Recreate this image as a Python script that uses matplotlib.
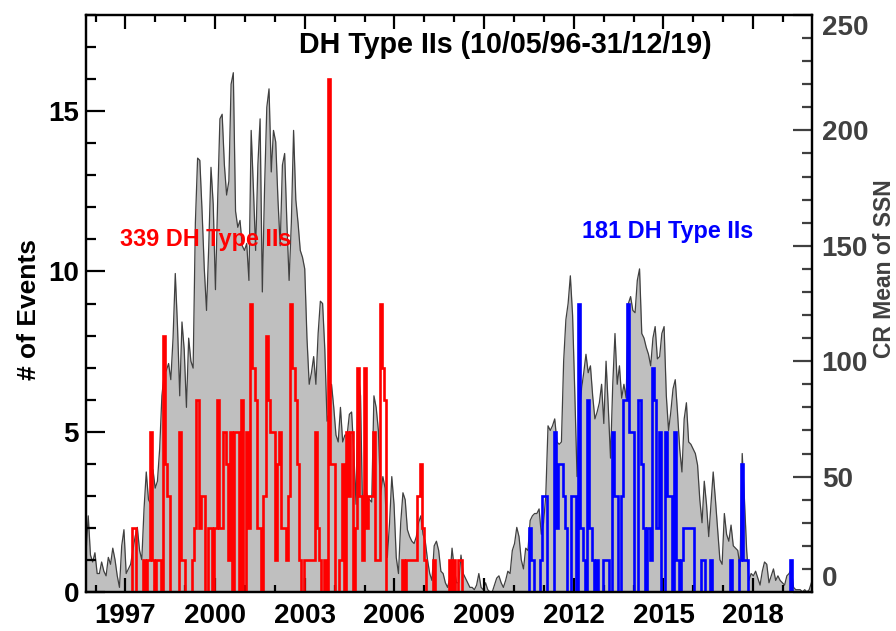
import numpy as np
import matplotlib
matplotlib.use("Agg")
import matplotlib.pyplot as plt
from matplotlib.ticker import MultipleLocator, FixedLocator

plt.rcParams['font.family'] = ['Liberation Sans', 'DejaVu Sans']
plt.rcParams['font.weight'] = 'bold'

# Carrington-rotation grid (decimal years)
cr_epoch = 1995.68
cr_length = 27.2753 / 365.25

# Carrington-rotation mean sunspot number
ssn = [
    17, 33, 16, 13, 17, 8, 8, 13, 9, 7, 15, 12, 19, 14, 7, 2, 20, 27, 8, 10,
    12, 18, 24, 28, 18, 14, 36, 52, 40, 38, 53, 45, 48, 62, 85, 94, 96, 99, 92, 110,
    138, 115, 85, 117, 105, 80, 110, 100, 97, 160, 188, 187, 165, 140, 122, 150, 184, 168, 131, 170,
    205, 207, 185, 172, 178, 220, 225, 165, 158, 161, 150, 148, 151, 135, 200, 175, 148, 185, 205, 130,
    175, 210, 218, 182, 200, 195, 170, 150, 185, 190, 160, 135, 160, 200, 170, 160, 148, 145, 140, 110,
    90, 95, 102, 90, 112, 126, 125, 105, 74, 78, 90, 80, 68, 65, 80, 65, 68, 68, 77, 78,
    60, 38, 95, 85, 30, 48, 41, 40, 39, 85, 80, 70, 42, 50, 45, 15, 30, 50, 38, 15,
    8, 30, 43, 40, 27, 24, 22, 21, 24, 30, 33, 25, 22, 14, 8, 5, 20, 22, 18, 9,
    8, 4, 2, 6, 19, 10, 4, 4, 16, 8, 6, 4, 2, 2, 1, 3, 8, 2, 1, 4,
    1, 0, 0, 3, 6, 7, 4, 2, 5, 9, 8, 18, 21, 28, 24, 14, 10, 19, 18, 31,
    33, 34, 34, 36, 25, 30, 42, 72, 70, 72, 75, 65, 64, 65, 100, 118, 125, 137, 120, 86,
    50, 75, 88, 95, 103, 95, 98, 85, 75, 78, 82, 90, 73, 100, 80, 58, 90, 112, 90, 98,
    84, 90, 84, 125, 128, 122, 121, 135, 140, 112, 110, 106, 103, 98, 110, 115, 101, 102, 112, 115,
    85, 70, 78, 88, 92, 78, 62, 52, 75, 82, 65, 64, 62, 60, 55, 40, 30, 48, 38, 24,
    38, 52, 40, 27, 14, 12, 34, 25, 22, 29, 20, 19, 18, 11, 60, 40, 18, 5, 8, 7,
    9, 6, 3, 9, 13, 12, 4, 7, 10, 5, 7, 5, 4, 3, 7, 8, 10, 2, 1, 1,
    1, 0, 1, 0, 1, 4,
]

# DH type II counts per rotation, solar cycle 23 (from rotation index 20)
c23_first = 20
c23_counts = [
    0, 2, 2, 0, 0, 0, 1, 0, 1, 5, 1, 0, 1, 1, 0, 8, 4, 3, 0, 0,
    0, 0, 5, 1, 1, 0, 0, 0, 1, 2, 6, 2, 3, 3, 0, 2, 2, 0, 2, 6,
    2, 2, 5, 4, 1, 5, 0, 5, 5, 0, 6, 0, 5, 2, 9, 7, 6, 2, 2, 0,
    3, 8, 6, 5, 5, 1, 4, 5, 2, 2, 1, 3, 9, 7, 6, 4, 1, 0, 1, 1,
    1, 1, 1, 5, 2, 1, 0, 1, 0, 16, 4, 4, 0, 0, 1, 4, 0, 5, 3, 5,
    0, 2, 7, 3, 1, 7, 2, 3, 3, 5, 1, 1, 9, 7, 6, 0, 0, 0, 0, 0,
    0, 0, 1, 0, 1, 1, 1, 1, 1, 3, 4, 2, 1, 0, 0, 0, 1, 0, 0, 0,
    0, 0, 0, 1, 0, 1, 0, 1, 1, 0,
]

# DH type II counts per rotation, solar cycle 24 (from rotation index 197)
c24_first = 197
c24_counts = [
    0, 0, 2, 1, 0, 0, 0, 1, 3, 3, 0, 0, 0, 5, 2, 4, 4, 3, 2, 0,
    0, 3, 3, 0, 9, 2, 1, 0, 6, 2, 1, 0, 1, 0, 0, 1, 1, 1, 0, 5,
    3, 3, 0, 3, 6, 6, 9, 5, 5, 0, 0, 6, 4, 2, 0, 2, 1, 7, 6, 2,
    5, 0, 0, 5, 3, 3, 0, 5, 1, 0, 1, 2, 2, 2, 2, 2, 0, 0, 0, 1,
    1, 0, 0, 1, 0, 0, 0, 0, 0, 0, 0, 0, 1, 0, 0, 0, 1, 4, 1, 1,
    0, 0, 0, 0, 0, 0, 0, 0, 0, 0, 0, 0, 0, 0, 0, 0, 0, 0, 0, 1,
    0,
]

major_years = [1997, 2000, 2003, 2006, 2009, 2012, 2015, 2018]

ssn_t = cr_epoch + cr_length * np.arange(len(ssn))
t23 = cr_epoch + cr_length * (c23_first + np.arange(len(c23_counts)))
t24 = cr_epoch + cr_length * (c24_first + np.arange(len(c24_counts)))

fig = plt.figure(figsize=(8.96, 6.31), dpi=100)
ax = fig.add_axes([86 / 896, 39 / 631, 726 / 896, 577 / 631])
ax2 = ax.twinx()
ax.set_zorder(ax2.get_zorder() + 1)
ax.patch.set_visible(False)

# sunspot number on the right-hand axis
ax2.fill_between(ssn_t, 0, ssn, color='#bfbfbf', lw=0, zorder=1)
ax2.plot(ssn_t, ssn, color='#404040', lw=0.9, zorder=2)
ax2.set_ylim(0, 250)

# event histograms on the left-hand axis
ax.plot(t23, c23_counts, drawstyle='steps-mid', color='#ff0000', lw=1.9,
        solid_joinstyle='miter')
ax.plot(t24, c24_counts, drawstyle='steps-mid', color='#0000ff', lw=1.9,
        solid_joinstyle='miter')

ax.set_xlim(cr_epoch, cr_epoch + cr_length * (len(ssn) - 1) + 0.02)
ax.set_ylim(0, 18)

ax.xaxis.set_major_locator(FixedLocator(major_years))
ax.xaxis.set_minor_locator(MultipleLocator(1))
ax.yaxis.set_major_locator(MultipleLocator(5))
ax.yaxis.set_minor_locator(MultipleLocator(1))
ax2.yaxis.set_major_locator(FixedLocator([0, 50, 100, 150, 200, 250]))
ax2.yaxis.set_minor_locator(MultipleLocator(10))

for a in (ax, ax2):
    for s in a.spines.values():
        s.set_linewidth(1.6)
        s.set_color('black')

ax.tick_params(axis='both', which='major', direction='in', length=10, width=1.6,
               top=True, right=False, labelsize=20, colors='black')
ax.tick_params(axis='both', which='minor', direction='in', length=5, width=1.6,
               top=True, right=False)
ax.tick_params(axis='y', which='major', length=14, pad=5)
ax.tick_params(axis='y', which='minor', length=7)
ax.tick_params(axis='x', which='major', pad=8)
ax2.tick_params(axis='y', which='major', direction='in', length=14, width=1.6,
                labelsize=20, labelcolor='#404040', color='#404040', pad=7)
ax2.tick_params(axis='y', which='minor', direction='in', length=7, width=1.6,
                color='#404040')

for lab in ax.get_xticklabels() + ax.get_yticklabels() + ax2.get_yticklabels():
    lab.set_fontweight('bold')

# keep the end labels of the right axis inside the frame
fig.canvas.draw()
for tick in ax2.yaxis.get_major_ticks():
    if tick.get_loc() == 0:
        tick.label2.set_va('bottom')
    elif tick.get_loc() == 250:
        tick.label2.set_va('top')

ax.set_ylabel('# of Events', fontsize=19, fontweight='bold')
ax2.set_ylabel('CR Mean of SSN', fontsize=16.5, fontweight='bold', color='#404040')
ax.yaxis.set_label_coords(-0.062, 0.49)
ax2.yaxis.set_label_coords(1.084, 0.56)

ax.text(0.577, 0.948, 'DH Type IIs (10/05/96-31/12/19)', transform=ax.transAxes,
        ha='center', va='center', fontsize=20.6, fontweight='bold', color='black')
ax.text(1996.83, 11.0, f'{sum(c23_counts)} DH Type IIs', ha='left', va='center',
        fontsize=16.8, fontweight='bold', color='#ff0000')
ax.text(2012.28, 11.25, f'{sum(c24_counts)} DH Type IIs', ha='left', va='center',
        fontsize=16.8, fontweight='bold', color='#0000ff')

fig.savefig('out.png', dpi=100)
